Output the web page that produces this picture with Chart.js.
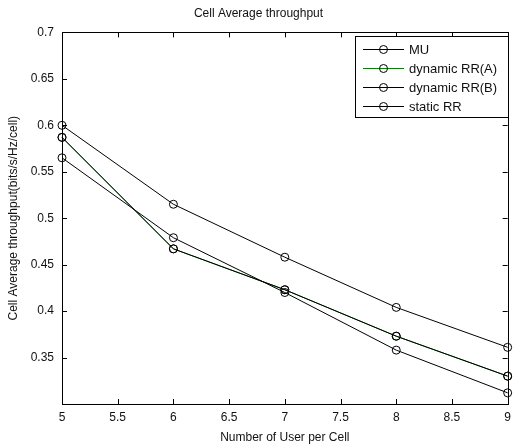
<!DOCTYPE html>
<html>
<head>
<meta charset="utf-8">
<script src="https://cdn.jsdelivr.net/npm/chart.js@4"></script>
<style>
  html, body { margin: 0; padding: 0; background: #fff; overflow: hidden; }
  #box { width: 517px; height: 445px; position: relative; }
</style>
</head>
<body>
<div id="box"><canvas id="myChart1"></canvas></div>
<script>
// numero de usuarios por celula
const usuarios = [5, 6, 7, 8, 9];

// throughput medio por celula (bits/s/Hz/cell)
const mu = [0.600, 0.515, 0.458, 0.404, 0.361];
const dynamicRRA = [0.587, 0.467, 0.423, 0.373, 0.330];
const dynamicRRB = [0.587, 0.467, 0.423, 0.373, 0.330];
const staticRR = [0.565, 0.479, 0.420, 0.358, 0.312];

const nomes = ["MU", "dynamic RR(A)", "dynamic RR(B)", "static RR"];
const cores = ["#000000", "#0a7d0a", "#000000", "#000000"];
const ordem = [0, 1, 0, 0]; // RR(A) fica por baixo da RR(B)
const series = [mu, dynamicRRA, dynamicRRB, staticRR];

const fonte = "'Liberation Sans', Arial, sans-serif";

function serie(i) {
  return {
    label: nomes[i],
    data: usuarios.map((x, k) => ({ x: x, y: series[i][k] })),
    borderColor: cores[i],
    backgroundColor: "rgba(0,0,0,0)",
    borderWidth: 1,
    pointRadius: 4,
    pointBorderWidth: 1,
    pointBorderColor: "#000",
    pointBackgroundColor: "rgba(0,0,0,0)",
    tension: 0,
    clip: false,
    order: ordem[i],
  };
}

// caixa + ticks para dentro (estilo matlab) e legenda
const moldura = {
  id: "moldura",
  afterDatasetsDraw(chart) {
    const ctx = chart.ctx;
    const a = chart.chartArea;
    const sx = chart.scales.x;
    const sy = chart.scales.y;
    ctx.save();
    ctx.strokeStyle = "#000";
    ctx.lineWidth = 1;
    ctx.strokeRect(Math.round(a.left) + 0.5, Math.round(a.top) + 0.5,
      Math.round(a.right - a.left), Math.round(a.bottom - a.top));
    const t = 5;
    ctx.beginPath();
    sx.ticks.forEach(function (tk) {
      const px = Math.round(sx.getPixelForValue(tk.value)) + 0.5;
      ctx.moveTo(px, a.bottom); ctx.lineTo(px, a.bottom - t);
      ctx.moveTo(px, a.top); ctx.lineTo(px, a.top + t);
    });
    sy.ticks.forEach(function (tk) {
      const py = Math.round(sy.getPixelForValue(tk.value)) + 0.5;
      ctx.moveTo(a.left, py); ctx.lineTo(a.left + t, py);
      ctx.moveTo(a.right, py); ctx.lineTo(a.right - t, py);
    });
    ctx.stroke();

    // legenda
    const lx = 355, ly = 36, lw = 153, lh = 81;
    ctx.fillStyle = "#fff";
    ctx.fillRect(lx, ly, lw, lh);
    ctx.strokeRect(lx + 0.5, ly + 0.5, lw, lh);
    ctx.font = "13px " + fonte;
    ctx.textBaseline = "middle";
    chart.data.datasets.forEach(function (ds, i) {
      const y = ly + 13 + i * 19 + 0.5;
      ctx.strokeStyle = ds.borderColor;
      ctx.beginPath();
      ctx.moveTo(363, y); ctx.lineTo(404, y);
      ctx.stroke();
      ctx.strokeStyle = "#000";
      ctx.beginPath();
      ctx.arc(383.5, y, 4, 0, Math.PI * 2);
      ctx.stroke();
      ctx.fillStyle = "#111";
      ctx.fillText(ds.label, 409, y + 1);
    });
    ctx.restore();
  },
};

const config = {
  type: "line",
  data: { datasets: [serie(0), serie(1), serie(2), serie(3)] },
  options: {
    responsive: true,
    maintainAspectRatio: false,
    animation: false,
    layout: { padding: { left: 0, right: 0, top: 0, bottom: 0 } },
    plugins: {
      legend: { display: false },
      tooltip: { enabled: false },
      title: {
        display: true,
        text: "Cell Average throughput",
        color: "#111",
        font: { family: fonte, size: 12, weight: "normal" },
        padding: { top: 6, bottom: 12 },
      },
    },
    scales: {
      x: {
        type: "linear",
        min: 5,
        max: 9,
        grid: { display: false, drawTicks: false },
        border: { display: false },
        ticks: {
          stepSize: 0.5,
          padding: 6,
          color: "#111",
          maxRotation: 0,
          font: { family: fonte, size: 12 },
          callback: (v) => String(Math.round(v * 10) / 10),
        },
        title: {
          display: true,
          text: "Number of User per Cell",
          color: "#111",
          font: { family: fonte, size: 12 },
          padding: { top: 0, bottom: 0 },
        },
        afterFit: (s) => { s.height = 41; },
      },
      y: {
        type: "linear",
        min: 0.3,
        max: 0.7,
        grid: { display: false, drawTicks: false },
        border: { display: false },
        ticks: {
          stepSize: 0.05,
          padding: 8,
          color: "#111",
          font: { family: fonte, size: 12 },
          callback: (v) => (Math.abs(v - 0.3) < 1e-6 ? "" : String(Math.round(v * 100) / 100)),
        },
        title: {
          display: true,
          text: "Cell Average throughput(bits/s/Hz/cell)",
          color: "#111",
          font: { family: fonte, size: 12 },
          padding: { top: 6, bottom: 0 },
        },
        afterFit: (s) => { s.width = 62; },
      },
    },
  },
  plugins: [moldura],
};

let myChart = new Chart(document.getElementById("myChart1"), config);
</script>
</body>
</html>
